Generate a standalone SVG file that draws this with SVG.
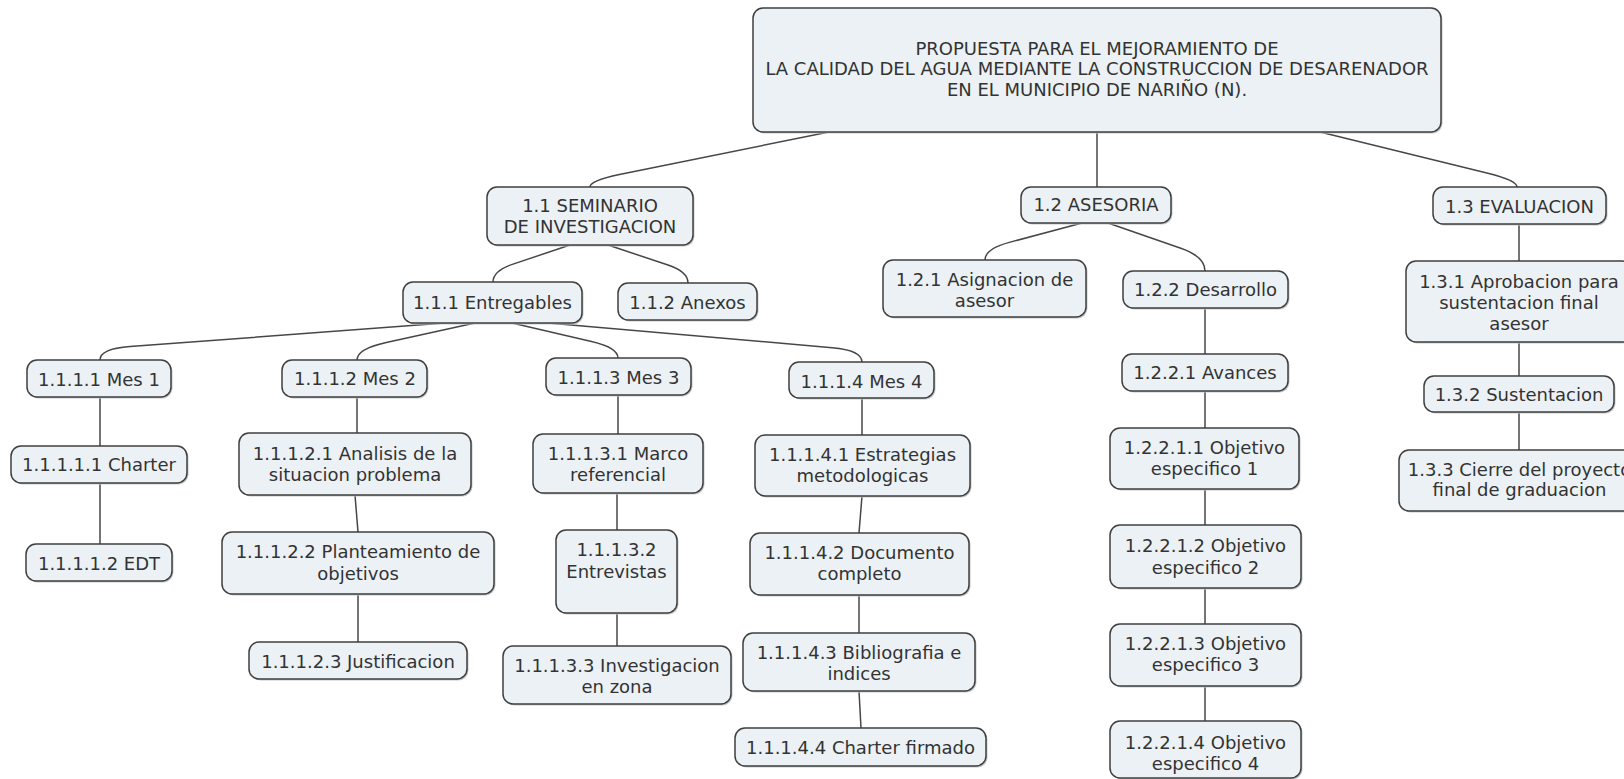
<svg xmlns="http://www.w3.org/2000/svg" width="1624" height="779" viewBox="0 0 1624 779">
  <style>
    .sh { fill: #c4c8ca; }
    .box { fill: #ebf1f4; stroke: #3f3f3f; stroke-width: 1.5; }
    .lbl { font-family: "DejaVu Sans", Verdana, sans-serif; font-size: 18px; fill: #333333; text-anchor: middle; }
    .con { fill: none; stroke: #474747; stroke-width: 1.5; }
  </style>

  <!-- connectors -->
  <g id="connectors">
    <path class="con" d="M829,132 L619.4,174.4 Q590,180.4 590,187"/>
    <path class="con" d="M1097,132 L1097,187"/>
    <path class="con" d="M1320,132 L1487.9,173.2 Q1517,180.4 1517,187"/>
    <path class="con" d="M570,245 L512.3,264.4 Q493,270.9 493,282"/>
    <path class="con" d="M608,245 L668,265 Q688,271.6 688,283"/>
    <path class="con" d="M1082,223 L1009.3,242.4 Q985,248.9 985,260"/>
    <path class="con" d="M1108,223 L1180.8,248.2 Q1205,256.6 1205,271"/>
    <path class="con" d="M1519,224 L1519,261"/>
    <path class="con" d="M1519,342 L1519,376"/>
    <path class="con" d="M1519,412 L1519,450"/>
    <path class="con" d="M445,323 L130,346.6 Q100,348.9 100,360"/>
    <path class="con" d="M475,323 L386.3,342.5 Q357,348.9 357,360"/>
    <path class="con" d="M512,323 L591.5,341.4 Q618,347.5 618,358"/>
    <path class="con" d="M548,323 L832.1,347.7 Q862,350.3 862,362"/>
    <path class="con" d="M100,397 L100,446"/>
    <path class="con" d="M100,483 L100,544"/>
    <path class="con" d="M357,397 L357,433"/>
    <path class="con" d="M355,495 L358,532"/>
    <path class="con" d="M358,594 L358,642"/>
    <path class="con" d="M618,395 L618,434"/>
    <path class="con" d="M617,493 L617,530"/>
    <path class="con" d="M617,613 L617,646"/>
    <path class="con" d="M862,398 L862,435"/>
    <path class="con" d="M862,496 L859,533"/>
    <path class="con" d="M859,595 L859,633"/>
    <path class="con" d="M859,691 L861,728"/>
    <path class="con" d="M1205,308 L1205,354"/>
    <path class="con" d="M1205,391 L1205,428"/>
    <path class="con" d="M1205,489 L1205,525"/>
    <path class="con" d="M1205,588 L1205,624"/>
    <path class="con" d="M1205,686 L1205,721"/>
  </g>

  <!-- root -->
  <g id="root">
    <rect class="sh" x="754.5" y="9.5" width="688" height="124" rx="10"/>
    <rect class="box" x="753" y="8" width="688" height="124" rx="10"/>
    <text class="lbl"><tspan x="1097" y="54.5">PROPUESTA PARA EL MEJORAMIENTO DE</tspan><tspan x="1097" y="75">LA CALIDAD DEL AGUA MEDIANTE LA CONSTRUCCION DE DESARENADOR</tspan><tspan x="1097" y="95.5">EN EL MUNICIPIO DE NARIÑO (N).</tspan></text>
  </g>

  <!-- level 1 -->
  <g id="n11">
    <rect class="sh" x="488.5" y="188.5" width="206" height="58" rx="10"/>
    <rect class="box" x="487" y="187" width="206" height="58" rx="10"/>
    <text class="lbl"><tspan x="590" y="211.5">1.1 SEMINARIO</tspan><tspan x="590" y="232.5">DE INVESTIGACION</tspan></text>
  </g>
  <g id="n12">
    <rect class="sh" x="1022.5" y="188.5" width="150" height="36" rx="10"/>
    <rect class="box" x="1021" y="187" width="150" height="36" rx="10"/>
    <text class="lbl" x="1096" y="210.5">1.2 ASESORIA</text>
  </g>
  <g id="n13">
    <rect class="sh" x="1434.5" y="188.5" width="173" height="37" rx="10"/>
    <rect class="box" x="1433" y="187" width="173" height="37" rx="10"/>
    <text class="lbl" x="1519.5" y="212.5">1.3 EVALUACION</text>
  </g>

  <!-- level 2 -->
  <g id="n111">
    <rect class="sh" x="404.5" y="283.5" width="179" height="41" rx="10"/>
    <rect class="box" x="403" y="282" width="179" height="41" rx="10"/>
    <text class="lbl" x="492.5" y="308.5">1.1.1 Entregables</text>
  </g>
  <g id="n112">
    <rect class="sh" x="619.5" y="284.5" width="139" height="37" rx="10"/>
    <rect class="box" x="618" y="283" width="139" height="37" rx="10"/>
    <text class="lbl" x="687.5" y="308.5">1.1.2 Anexos</text>
  </g>
  <g id="n121">
    <rect class="sh" x="884.5" y="261.5" width="203" height="57" rx="10"/>
    <rect class="box" x="883" y="260" width="203" height="57" rx="10"/>
    <text class="lbl"><tspan x="984.5" y="285.5">1.2.1 Asignacion de</tspan><tspan x="984.5" y="306.5">asesor</tspan></text>
  </g>
  <g id="n122">
    <rect class="sh" x="1124.5" y="272.5" width="165" height="37" rx="10"/>
    <rect class="box" x="1123" y="271" width="165" height="37" rx="10"/>
    <text class="lbl" x="1205.5" y="295.5">1.2.2 Desarrollo</text>
  </g>
  <g id="n131">
    <rect class="sh" x="1407.5" y="262.5" width="226" height="81" rx="10"/>
    <rect class="box" x="1406" y="261" width="226" height="81" rx="10"/>
    <text class="lbl"><tspan x="1519" y="287.5">1.3.1 Aprobacion para</tspan><tspan x="1519" y="308.5">sustentacion final</tspan><tspan x="1519" y="330">asesor</tspan></text>
  </g>
  <g id="n132">
    <rect class="sh" x="1425.5" y="377.5" width="190" height="36" rx="10"/>
    <rect class="box" x="1424" y="376" width="190" height="36" rx="10"/>
    <text class="lbl" x="1519" y="400.5">1.3.2 Sustentacion</text>
  </g>
  <g id="n133">
    <rect class="sh" x="1400.5" y="451.5" width="241" height="61" rx="10"/>
    <rect class="box" x="1399" y="450" width="241" height="61" rx="10"/>
    <text class="lbl"><tspan x="1519.5" y="475.5">1.3.3 Cierre del proyecto</tspan><tspan x="1519.5" y="495.5">final de graduacion</tspan></text>
  </g>

  <!-- level 3 -->
  <g id="n1111">
    <rect class="sh" x="28.5" y="361.5" width="144" height="37" rx="10"/>
    <rect class="box" x="27" y="360" width="144" height="37" rx="10"/>
    <text class="lbl" x="99" y="385.5">1.1.1.1 Mes 1</text>
  </g>
  <g id="n1112">
    <rect class="sh" x="283.5" y="361.5" width="145" height="37" rx="10"/>
    <rect class="box" x="282" y="360" width="145" height="37" rx="10"/>
    <text class="lbl" x="355" y="384.5">1.1.1.2 Mes 2</text>
  </g>
  <g id="n1113">
    <rect class="sh" x="547.5" y="359.5" width="145" height="37" rx="10"/>
    <rect class="box" x="546" y="358" width="145" height="37" rx="10"/>
    <text class="lbl" x="618.5" y="383.5">1.1.1.3 Mes 3</text>
  </g>
  <g id="n1114">
    <rect class="sh" x="790.5" y="363.5" width="145" height="36" rx="10"/>
    <rect class="box" x="789" y="362" width="145" height="36" rx="10"/>
    <text class="lbl" x="861.5" y="387.5">1.1.1.4 Mes 4</text>
  </g>
  <g id="n1221">
    <rect class="sh" x="1123.5" y="355.5" width="166" height="37" rx="10"/>
    <rect class="box" x="1122" y="354" width="166" height="37" rx="10"/>
    <text class="lbl" x="1205" y="378.5">1.2.2.1 Avances</text>
  </g>

  <!-- level 4 and below -->
  <g id="n11111">
    <rect class="sh" x="12.5" y="447.5" width="176" height="37" rx="10"/>
    <rect class="box" x="11" y="446" width="176" height="37" rx="10"/>
    <text class="lbl" x="99" y="470.5">1.1.1.1.1 Charter</text>
  </g>
  <g id="n11112">
    <rect class="sh" x="27.5" y="545.5" width="146" height="37" rx="10"/>
    <rect class="box" x="26" y="544" width="146" height="37" rx="10"/>
    <text class="lbl" x="99" y="569.5">1.1.1.1.2 EDT</text>
  </g>
  <g id="n11121">
    <rect class="sh" x="240.5" y="434.5" width="232" height="62" rx="10"/>
    <rect class="box" x="239" y="433" width="232" height="62" rx="10"/>
    <text class="lbl"><tspan x="355" y="459.5">1.1.1.2.1 Analisis de la</tspan><tspan x="355" y="480.5">situacion problema</tspan></text>
  </g>
  <g id="n11122">
    <rect class="sh" x="223.5" y="533.5" width="272" height="62" rx="10"/>
    <rect class="box" x="222" y="532" width="272" height="62" rx="10"/>
    <text class="lbl"><tspan x="358" y="557.5">1.1.1.2.2 Planteamiento de</tspan><tspan x="358" y="579.5">objetivos</tspan></text>
  </g>
  <g id="n11123">
    <rect class="sh" x="250.5" y="643.5" width="218" height="37" rx="10"/>
    <rect class="box" x="249" y="642" width="218" height="37" rx="10"/>
    <text class="lbl" x="358" y="667.5">1.1.1.2.3 Justificacion</text>
  </g>
  <g id="n11131">
    <rect class="sh" x="534.5" y="435.5" width="170" height="59" rx="10"/>
    <rect class="box" x="533" y="434" width="170" height="59" rx="10"/>
    <text class="lbl"><tspan x="618" y="459.5">1.1.1.3.1 Marco</tspan><tspan x="618" y="480.5">referencial</tspan></text>
  </g>
  <g id="n11132">
    <rect class="sh" x="557.5" y="531.5" width="121" height="83" rx="10"/>
    <rect class="box" x="556" y="530" width="121" height="83" rx="10"/>
    <text class="lbl"><tspan x="616.5" y="555.5">1.1.1.3.2</tspan><tspan x="616.5" y="577.5">Entrevistas</tspan></text>
  </g>
  <g id="n11133">
    <rect class="sh" x="504.5" y="647.5" width="228" height="58" rx="10"/>
    <rect class="box" x="503" y="646" width="228" height="58" rx="10"/>
    <text class="lbl"><tspan x="617" y="671.5">1.1.1.3.3 Investigacion</tspan><tspan x="617" y="692.5">en zona</tspan></text>
  </g>
  <g id="n11141">
    <rect class="sh" x="756.5" y="436.5" width="215" height="61" rx="10"/>
    <rect class="box" x="755" y="435" width="215" height="61" rx="10"/>
    <text class="lbl"><tspan x="862.5" y="460.5">1.1.1.4.1 Estrategias</tspan><tspan x="862.5" y="481.5">metodologicas</tspan></text>
  </g>
  <g id="n11142">
    <rect class="sh" x="751.5" y="534.5" width="219" height="62" rx="10"/>
    <rect class="box" x="750" y="533" width="219" height="62" rx="10"/>
    <text class="lbl"><tspan x="859.5" y="558.5">1.1.1.4.2 Documento</tspan><tspan x="859.5" y="579.5">completo</tspan></text>
  </g>
  <g id="n11143">
    <rect class="sh" x="744.5" y="634.5" width="232" height="58" rx="10"/>
    <rect class="box" x="743" y="633" width="232" height="58" rx="10"/>
    <text class="lbl"><tspan x="859" y="658.5">1.1.1.4.3 Bibliografia e</tspan><tspan x="859" y="679.5">indices</tspan></text>
  </g>
  <g id="n11144">
    <rect class="sh" x="736.5" y="729.5" width="251" height="38" rx="10"/>
    <rect class="box" x="735" y="728" width="251" height="38" rx="10"/>
    <text class="lbl" x="860.5" y="753.5">1.1.1.4.4 Charter firmado</text>
  </g>
  <g id="n12211">
    <rect class="sh" x="1111.5" y="429.5" width="189" height="61" rx="10"/>
    <rect class="box" x="1110" y="428" width="189" height="61" rx="10"/>
    <text class="lbl"><tspan x="1204.5" y="453.5">1.2.2.1.1 Objetivo</tspan><tspan x="1204.5" y="474.5">especifico 1</tspan></text>
  </g>
  <g id="n12212">
    <rect class="sh" x="1111.5" y="526.5" width="191" height="63" rx="10"/>
    <rect class="box" x="1110" y="525" width="191" height="63" rx="10"/>
    <text class="lbl"><tspan x="1205.5" y="551.5">1.2.2.1.2 Objetivo</tspan><tspan x="1205.5" y="573.5">especifico 2</tspan></text>
  </g>
  <g id="n12213">
    <rect class="sh" x="1111.5" y="625.5" width="191" height="62" rx="10"/>
    <rect class="box" x="1110" y="624" width="191" height="62" rx="10"/>
    <text class="lbl"><tspan x="1205.5" y="649.5">1.2.2.1.3 Objetivo</tspan><tspan x="1205.5" y="670.5">especifico 3</tspan></text>
  </g>
  <g id="n12214">
    <rect class="sh" x="1111.5" y="722.5" width="191" height="57" rx="10"/>
    <rect class="box" x="1110" y="721" width="191" height="57" rx="10"/>
    <text class="lbl"><tspan x="1205.5" y="748.5">1.2.2.1.4 Objetivo</tspan><tspan x="1205.5" y="769.5">especifico 4</tspan></text>
  </g>
</svg>
